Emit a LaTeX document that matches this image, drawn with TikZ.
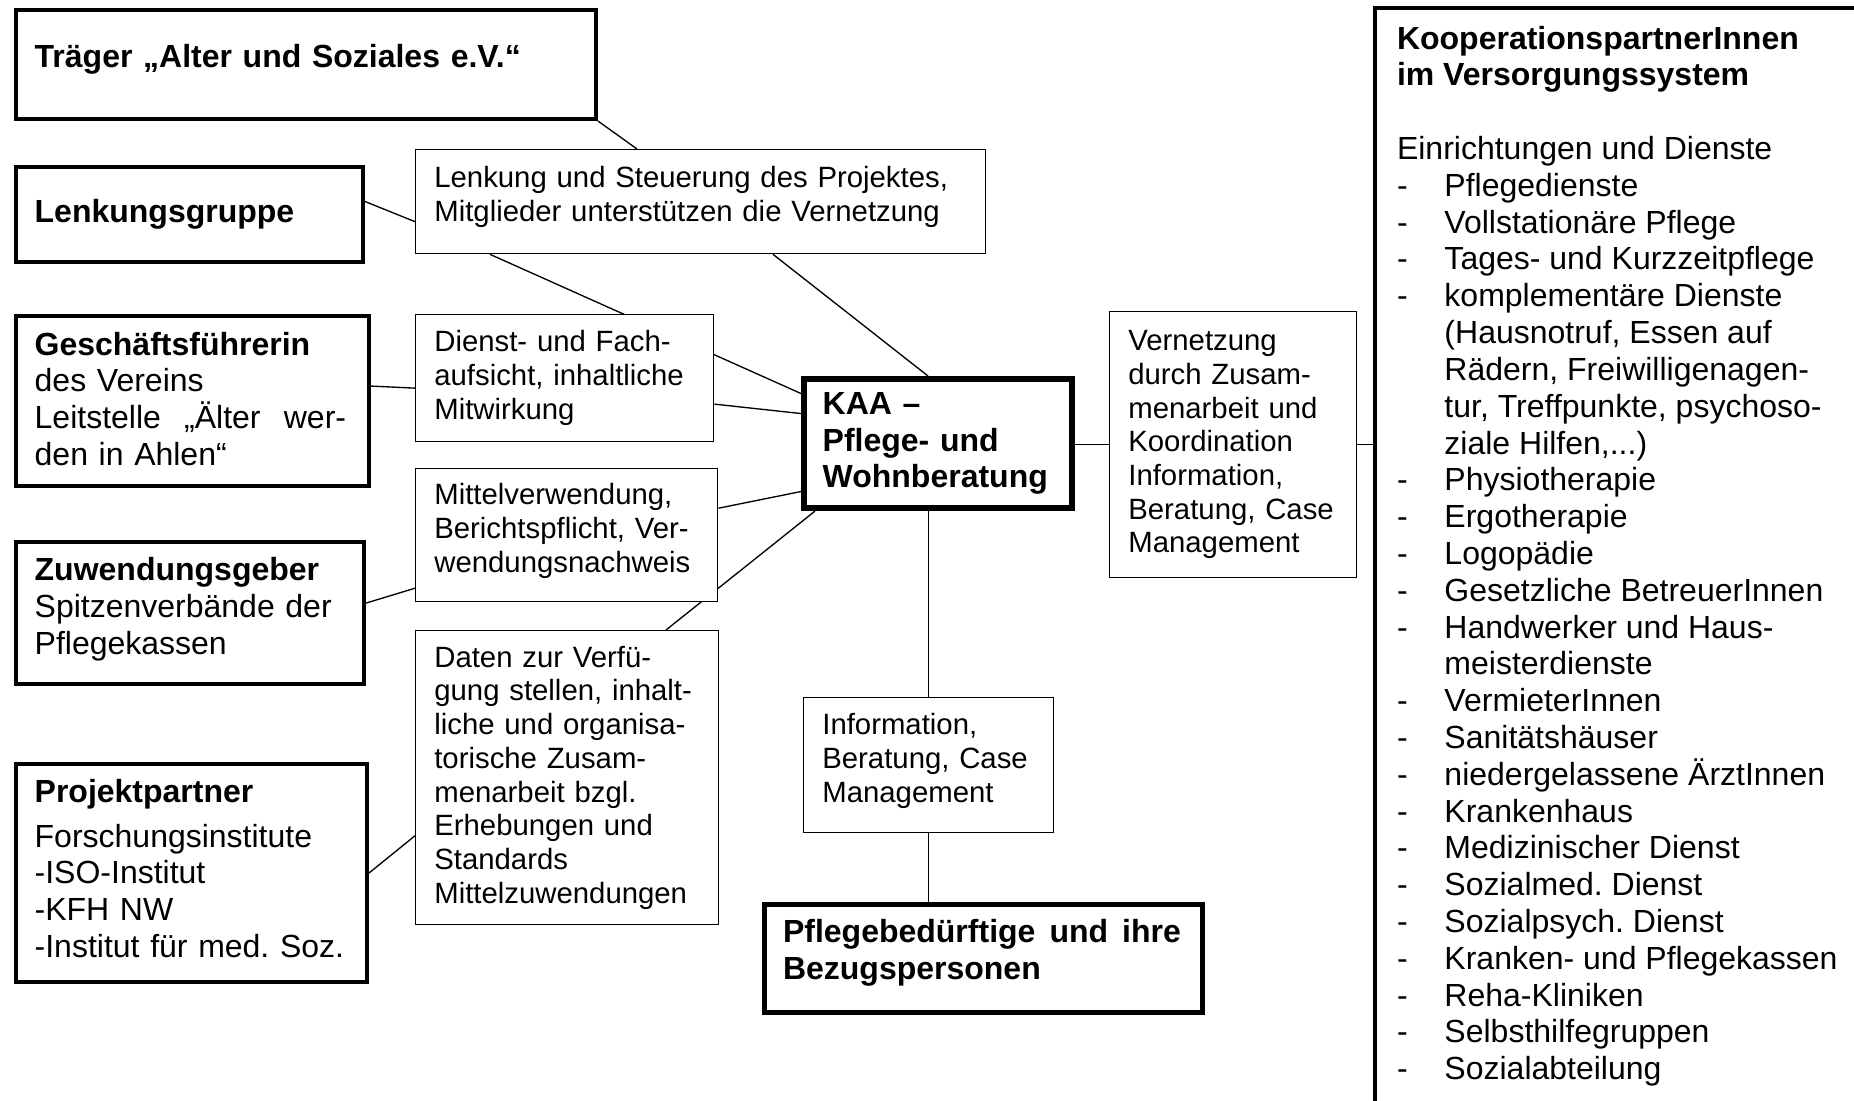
\documentclass[tikz,border=0pt]{standalone}
\usepackage{fontspec}
\setmainfont{Liberation Sans}
\usetikzlibrary{calc,backgrounds}
\newcommand\kdash{\makebox[17.8pt][l]{-}}
\newcommand\kgap{\hspace*{17.8pt}}
\newcommand\spreadline[2]{\leavevmode\hbox to #1{#2}}
\frenchspacing

\begin{document}
\begin{tikzpicture}[x=0.375pt,y=-0.375pt,
  heavy/.style={draw,line width=1.5pt,fill=white,anchor=north west,inner xsep=7pt,inner ysep=0pt,align=left,font=\fontsize{12}{13.8}\selectfont},
  sidebox/.style={heavy,inner xsep=6.2pt},
  light/.style={draw,line width=0.5pt,fill=white,anchor=north west,inner xsep=7pt,inner ysep=0pt,align=left,font=\fontsize{11}{12.65}\selectfont},
  boxsize/.style 2 args={minimum width=#1,minimum height=#2,text width=#1-14pt},
  link/.style={line width=0.5pt}]
\useasboundingbox (0,0) rectangle (1854,1100);
\clip (0,0) rectangle (1854,1100);

% Left column
\node[sidebox,boxsize={217.5pt}{40.9pt},text depth=6.1pt] (traeger) at (14,8) {\textbf{Träger „Alter und Soziales e.V.“}};
\node[sidebox,boxsize={130.1pt}{35.6pt}] (lgruppe) at (14,165) {\textbf{Lenkungsgruppe}};
\node[sidebox,boxsize={132.4pt}{63.8pt},text depth=43.2pt] (gf) at (14,314) {\textbf{Geschäftsführerin}\\des Vereins\\\spreadline{116.8pt}{Leitstelle\hfill„Älter\hfill wer-}\\den in Ahlen“};
\node[sidebox,boxsize={130.5pt}{53.3pt},text depth=32.8pt] (zuw) at (14,540) {\textbf{Zuwendungsgeber}\\Spitzenverbände der\\Pflegekassen};
\node[sidebox,boxsize={131.6pt}{81.8pt},text depth=61.8pt] (proj) at (14,762) {\textbf{Projektpartner}\\[3pt]Forschungsinstitute\\-ISO-Institut\\-KFH NW\\-Institut~für~med.~Soz.};

% Middle column
\node[light,boxsize={213.8pt}{39pt},text depth=18.5pt] (lenk) at (415,149) {Lenkung und Steuerung des Projektes,\\Mitglieder unterstützen die Vernetzung};
\node[light,boxsize={111.8pt}{47.6pt}] (dienst) at (415,314) {Dienst- und Fach-\\aufsicht, inhaltliche\\Mitwirkung};
\node[light,boxsize={113.3pt}{49.9pt},text depth=30.7pt] (mittel) at (415,468) {Mittelverwendung,\\Berichtspflicht, Ver-\\wendungsnachweis};
\node[light,boxsize={113.6pt}{110.3pt}] (daten) at (415,630) {Daten zur Verfü-\\gung stellen, inhalt-\\liche und organisa-\\torische Zusam-\\menarbeit bzgl.\\Erhebungen und\\Standards\\Mittelzuwendungen};

% Centre
\node[heavy,line width=2.25pt,boxsize={100.5pt}{48.4pt}] (kaa) at (801,376) {\textbf{KAA –}\\\textbf{Pflege- und}\\\textbf{Wohnberatung}};
\node[light,boxsize={93.8pt}{50.6pt},text depth=30.7pt] (info) at (803,697) {Information,\\Beratung, Case\\Management};
\node[heavy,line width=1.75pt,boxsize={164.3pt}{40.5pt},text depth=20.3pt] (pfl) at (762,902) {\textbf{\spreadline{149.2pt}{Pflegebedürftige\hfill und\hfill ihre}}\\\textbf{Bezugspersonen}};
\node[light,boxsize={92.6pt}{99.8pt}] (vern) at (1109,311) {Vernetzung\\durch Zusam-\\menarbeit und\\Koordination\\Information,\\Beratung, Case\\Management};

% Right column
\node[draw,line width=1.5pt,anchor=north west,inner xsep=8.25pt,inner ysep=6.75pt] (koop) at (1373,6) {\parbox[c][420pt][t]{175pt}{\raggedright\fontsize{12}{13.8}\selectfont\noindent
\textbf{KooperationspartnerInnen}\\
\textbf{im Versorgungssystem}\\[13.8pt]
Einrichtungen und Dienste\\
\kdash Pflegedienste\\
\kdash Vollstationäre Pflege\\
\kdash Tages- und Kurzzeitpflege\\
\kdash komplementäre Dienste\\
\kgap(Hausnotruf, Essen auf\\
\kgap Rädern, Freiwilligenagen-\\
\kgap tur, Treffpunkte, psychoso-\\
\kgap ziale Hilfen,...)\\
\kdash Physiotherapie\\
\kdash Ergotherapie\\
\kdash Logopädie\\
\kdash Gesetzliche BetreuerInnen\\
\kdash Handwerker und Haus-\\
\kgap meisterdienste\\
\kdash VermieterInnen\\
\kdash Sanitätshäuser\\
\kdash niedergelassene ÄrztInnen\\
\kdash Krankenhaus\\
\kdash Medizinischer Dienst\\
\kdash Sozialmed. Dienst\\
\kdash Sozialpsych. Dienst\\
\kdash Kranken- und Pflegekassen\\
\kdash Reha-Kliniken\\
\kdash Selbsthilfegruppen\\
\kdash Sozialabteilung}};

% Connectors
\begin{scope}[on background layer]
\fill[white] (0,0) rectangle (1854,1100);
\draw[link] (traeger.south east) -- ($(lenk.north west)+(222,0)$);
\draw[link] ($(lgruppe.east)+(0,-13)$) -- ($(lenk.west)+(0,20)$);
\draw[link] ($(lenk.south west)+(75,0)$) -- ($(kaa.west)+(0,-50)$);
\draw[link] ($(lenk.south west)+(358,0)$) -- ($(kaa.north west)+(127,0)$);
\draw[link] ($(gf.east)+(0,-15)$) -- ($(dienst.west)+(0,10)$);
\draw[link] ($(dienst.east)+(0,26)$) -- ($(kaa.west)+(0,-30)$);
\draw[link] ($(mittel.east)+(0,-27)$) -- ($(kaa.west)+(0,48)$);
\draw[link] ($(zuw.east)+(0,-10)$) -- ($(mittel.west)+(0,53)$);
\draw[link] ($(daten.north west)+(251,0)$) -- ($(kaa.south west)+(14,0)$);
\draw[link] (proj.east) -- ($(daten.west)+(0,58)$);
\draw[link] (info.north |- kaa.south) -- (info.north);
\draw[link] (info.south) -- (info.south |- pfl.north);
\draw[link] (vern.west -| kaa.east) -- (vern.west);
\draw[link] (vern.east) -- (vern.east -| koop.west);
\end{scope}
\end{tikzpicture}
\end{document}
